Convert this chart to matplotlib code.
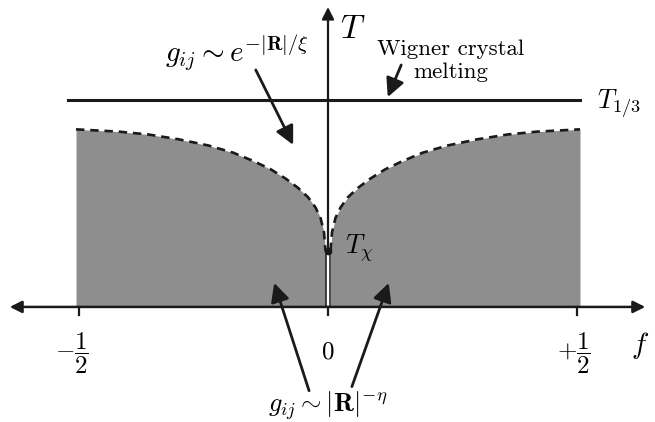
import matplotlib
matplotlib.use("Agg")
import matplotlib.pyplot as plt
import numpy as np

plt.rcParams["mathtext.fontset"] = "cm"

# half of the crossover curve T*(f), mirrored for f < 0
f_half = [0.005, 0.008, 0.015, 0.025, 0.04, 0.06, 0.085, 0.115,
          0.15, 0.19, 0.24, 0.30, 0.36, 0.42, 0.506]
T_half = [0.27, 0.36, 0.43, 0.48, 0.53, 0.575, 0.62, 0.665,
          0.705, 0.745, 0.78, 0.81, 0.833, 0.847, 0.858]
T_chi = 0.27
T_melt = 1.0
f_ticks = [-0.5, 0.0, 0.5]
f_tick_labels = [r"$-\dfrac{1}{2}$", r"$0$", r"$+\dfrac{1}{2}$"]

f_r = np.array(f_half)
T_r = np.array(T_half)
f_l = -f_r[::-1]
T_l = T_r[::-1]

fig = plt.figure(figsize=(6.55, 4.22), dpi=100)
ax = fig.add_axes([0, 0, 1, 1])
ax.set_xlim(-0.6586, 0.6566)
ax.set_ylim(-0.556, 1.483)
ax.axis("off")

gray = "#8e8e8e"
ink = "#1a1a1a"

# shaded power-law region, split at f = 0
ax.fill_between(f_l, 0, T_l, color=gray, lw=0)
ax.fill_between(f_r, 0, T_r, color=gray, lw=0)
ax.plot(f_l, T_l, ls=(0, (3.2, 2.2)), color=ink, lw=1.9)
ax.plot(f_r, T_r, ls=(0, (3.2, 2.2)), color=ink, lw=1.9)
for x0 in (f_l[-1], f_r[0]):
    ax.plot([x0, x0], [0, T_chi], color=ink, lw=1.1)

# melting line
ax.plot([-0.522, 0.506], [T_melt, T_melt], color=ink, lw=2.2)

# axes
ax.annotate("", xy=(-0.639, 0), xytext=(0.637, 0),
            arrowprops=dict(arrowstyle="<|-|>", lw=1.8, color=ink,
                            mutation_scale=18, shrinkA=0, shrinkB=0))
ax.annotate("", xy=(0, 1.449), xytext=(0, T_chi),
            arrowprops=dict(arrowstyle="-|>", lw=1.6, color=ink,
                            mutation_scale=18, shrinkA=0, shrinkB=0))
for x in f_ticks:
    ax.plot([x, x], [0, -0.039], color=ink, lw=1.6)
ax.text(-0.515, -0.222, f_tick_labels[0], ha="center", va="center", fontsize=18)
ax.text(0.0, -0.217, f_tick_labels[1], ha="center", va="center", fontsize=18)
ax.text(0.493, -0.222, f_tick_labels[2], ha="center", va="center", fontsize=18)
ax.text(0.627, -0.184, r"$f$", ha="center", va="center", fontsize=21)
ax.text(0.024, 1.30, r"$T$", ha="left", va="baseline", fontsize=24)

ax.plot([0], [T_chi], "o", color=ink, ms=4.5)
ax.text(0.034, 0.256, r"$T_\chi$", ha="left", va="baseline", fontsize=19)
ax.text(0.540, 0.961, r"$T_{1/3}$", ha="left", va="baseline", fontsize=19)

# annotations
ax.text(0.247, 1.217, "Wigner crystal", ha="center", va="baseline",
        fontsize=16.5, family="cmr10")
ax.text(0.247, 1.106, "melting", ha="center", va="baseline",
        fontsize=16.5, family="cmr10")
arrow = dict(arrowstyle="-|>", lw=2.0, color=ink, mutation_scale=28,
             shrinkA=0, shrinkB=0)
ax.annotate("", xy=(0.120, 1.014), xytext=(0.147, 1.169), arrowprops=arrow)

ax.text(-0.327, 1.184, r"$g_{ij} \sim e^{-|\mathbf{R}|/\xi}$", ha="left",
        va="baseline", fontsize=21)
ax.annotate("", xy=(-0.070, 0.783), xytext=(-0.145, 1.145), arrowprops=arrow)

ax.text(0.0, -0.505, r"$g_{ij} \sim |\mathbf{R}|^{-\eta}$", ha="center",
        va="baseline", fontsize=19)
ax.annotate("", xy=(-0.108, 0.116), xytext=(-0.038, -0.405), arrowprops=arrow)
ax.annotate("", xy=(0.122, 0.116), xytext=(0.048, -0.385), arrowprops=arrow)

fig.savefig("out.png", dpi=100)
